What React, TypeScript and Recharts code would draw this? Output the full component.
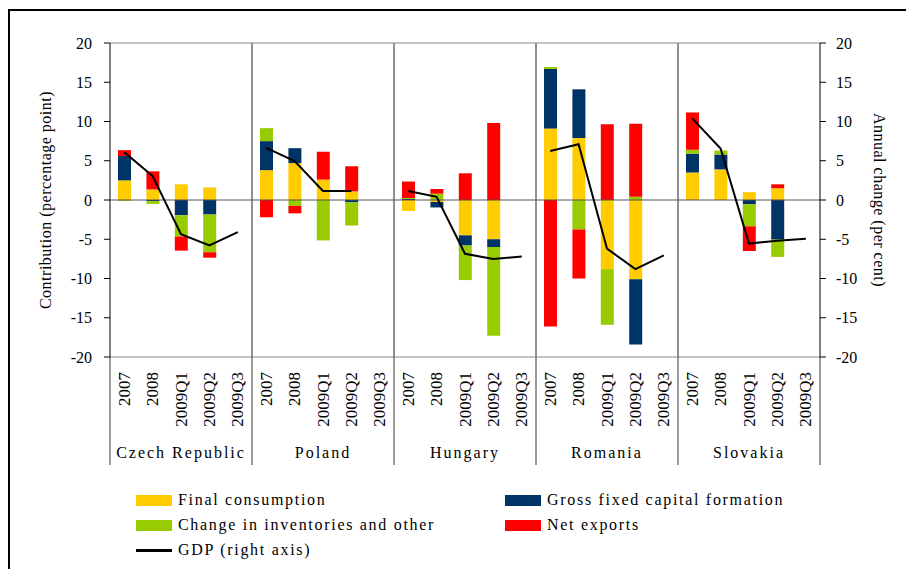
import React from 'react';
import { ComposedChart, Bar, Line, XAxis, YAxis, CartesianGrid, ReferenceLine } from 'recharts';

const countries = ['Czech Republic', 'Poland', 'Hungary', 'Romania', 'Slovakia'];
const periods = ['2007', '2008', '2009Q1', '2009Q2', '2009Q3'];
const yTicks = [-20, -15, -10, -5, 0, 5, 10, 15, 20];

// contributions, 5 periods per country, in the order of `countries`
const finalConsumption = [
  2.5, 1.35, 2.0, 1.6, 0,
  3.8, 4.7, 2.6, 1.1, 0,
  -1.4, -0.25, -4.5, -5.0, 0,
  9.1, 7.9, -8.8, -10.1, 0,
  3.5, 3.9, 1.0, 1.5, 0,
];
const grossFixedCapital = [
  3.1, -0.15, -1.95, -1.85, 0,
  3.7, 1.9, 0, -0.3, 0,
  0.15, -0.7, -1.3, -1.0, 0,
  7.6, 6.2, 0, -8.3, 0,
  2.4, 1.9, -0.55, -5.05, 0,
];
const inventories = [
  -0.1, -0.35, -2.7, -4.8, 0,
  1.65, -0.75, -5.15, -2.95, 0,
  0.1, 0.8, -4.4, -11.3, 0,
  0.25, -3.75, -7.1, 0.4, 0,
  0.5, 0.5, -2.8, -2.2, 0,
];
const netExports = [
  0.75, 2.3, -1.8, -0.7, 0,
  -2.2, -0.95, 3.55, 3.2, 0,
  2.1, 0.6, 3.4, 9.8, 0,
  -16.1, -6.25, 9.65, 9.3, 0,
  4.75, 0, -3.15, 0.5, 0,
];
const gdp: (number | null)[] = [
  6.1, 3.05, -4.35, -5.8, -4.1,
  6.65, 4.95, 1.15, 1.15, null,
  1.15, 0.4, -6.85, -7.5, -7.2,
  6.25, 7.1, -6.2, -8.8, -7.05,
  10.4, 6.55, -5.55, -5.2, -4.95,
];

const data = gdp.map((g, i) => {
  const c = Math.floor(i / 5);
  const row: Record<string, any> = {
    period: periods[i % 5],
    fc: finalConsumption[i],
    gfcf: grossFixedCapital[i],
    inv: inventories[i],
    nx: netExports[i],
  };
  row['gdp' + c] = g;
  return row;
});

const FONT = 'Liberation Serif, DejaVu Serif, serif';
const YELLOW = '#FFCC00';
const BLUE = '#003366';
const GREEN = '#99CC00';
const RED = '#FF0000';

const PeriodTick = (props: any) => {
  const { x, y, payload, index } = props;
  const half = payload?.offset || 14.2;
  const ty = y + 15;
  return (
    <g>
      <text
        x={x}
        y={ty}
        transform={`rotate(-90 ${x} ${ty})`}
        textAnchor="end"
        dominantBaseline="central"
        style={{ fontFamily: FONT, fontSize: 17 }}
        fill="#000"
      >
        {payload.value}
      </text>
      {index % 5 === 0 && <line x1={x - half} x2={x - half} y1={y} y2={y + 108} stroke="#333" strokeWidth={1} />}
      {index === data.length - 1 && <line x1={x + half} x2={x + half} y1={y} y2={y + 108} stroke="#333" strokeWidth={1} />}
      {index % 5 === 2 && (
        <text x={x} y={y + 95} textAnchor="middle" dominantBaseline="central" style={{ fontFamily: FONT, fontSize: 16, letterSpacing: 2 }} fill="#000">
          {countries[Math.floor(index / 5)]}
        </text>
      )}
    </g>
  );
};

const LegendItem = ({ x, y, color, label, line }: { x: number; y: number; color: string; label: string; line?: boolean }) => (
  <div style={{ position: 'absolute', left: x, top: y - 11, height: 22, display: 'flex', alignItems: 'center', whiteSpace: 'nowrap' }}>
    <div style={{ width: 36, height: line ? 3 : 11, background: color, marginRight: 6 }} />
    <span style={{ fontFamily: FONT, fontSize: 16, letterSpacing: 1.7, color: '#000' }}>{label}</span>
  </div>
);

export default function App() {
  return (
    <div style={{ position: 'absolute', left: 0, top: 0, width: 906, height: 569, background: '#fff', overflow: 'hidden', fontFamily: FONT }}>
      <div style={{ position: 'absolute', left: 8, top: 9, width: 920, height: 580, borderTop: '2px solid #000', borderLeft: '2px solid #000' }} />
      <div style={{ position: 'absolute', left: 0, top: 0 }}>
        <ComposedChart width={906} height={569} data={data} stackOffset="sign" margin={{ top: 43, right: 26, bottom: 102, left: 50 }}>
          <CartesianGrid
            horizontal={false}
            stroke="#222"
            verticalCoordinatesGenerator={({ offset }: any) => [1, 2, 3, 4].map((k) => offset.left + (offset.width * k) / 5)}
          />
          <XAxis
            dataKey="period"
            interval={0}
            height={110}
            tickLine={false}
            tickSize={0}
            tickMargin={0}
            axisLine={{ stroke: '#888' }}
            tick={<PeriodTick />}
          />
          <YAxis
            yAxisId="left"
            width={60}
            domain={[-20, 20]}
            ticks={yTicks}
            allowDataOverflow
            axisLine={{ stroke: '#000' }}
            tickLine={{ stroke: '#000' }}
            tickSize={6}
            tickMargin={12}
            tick={{ fill: '#000', style: { fontFamily: FONT, fontSize: 16 } }}
            label={{
              value: 'Contribution (percentage point)',
              angle: -90,
              position: 'insideLeft',
              offset: -5,
              style: { textAnchor: 'middle', fontFamily: FONT, fontSize: 16, fill: '#000', letterSpacing: 0.5 },
            }}
          />
          <YAxis
            yAxisId="right"
            orientation="right"
            width={60}
            domain={[-20, 20]}
            ticks={yTicks}
            allowDataOverflow
            axisLine={{ stroke: '#000' }}
            tickLine={{ stroke: '#000' }}
            tickSize={6}
            tickMargin={10}
            tick={{ fill: '#000', style: { fontFamily: FONT, fontSize: 16 } }}
            label={{
              value: 'Annual change (per cent)',
              angle: 90,
              position: 'insideRight',
              offset: 0,
              style: { textAnchor: 'middle', fontFamily: FONT, fontSize: 16, fill: '#000', letterSpacing: 0.5 },
            }}
          />
          <ReferenceLine yAxisId="left" y={20} stroke="#888" />
          <Bar yAxisId="left" dataKey="fc" stackId="s" fill={YELLOW} barSize={13} isAnimationActive={false} />
          <Bar yAxisId="left" dataKey="gfcf" stackId="s" fill={BLUE} barSize={13} isAnimationActive={false} />
          <Bar yAxisId="left" dataKey="inv" stackId="s" fill={GREEN} barSize={13} isAnimationActive={false} />
          <Bar yAxisId="left" dataKey="nx" stackId="s" fill={RED} barSize={13} isAnimationActive={false} />
          <ReferenceLine yAxisId="left" y={0} stroke="#555" />
          {countries.map((c, k) => (
            <Line
              key={c}
              yAxisId="right"
              dataKey={'gdp' + k}
              stroke="#000"
              strokeWidth={2}
              dot={false}
              activeDot={false}
              connectNulls={false}
              isAnimationActive={false}
            />
          ))}
        </ComposedChart>
      </div>
      <LegendItem x={136} y={500} color={YELLOW} label="Final consumption" />
      <LegendItem x={505} y={500} color={BLUE} label="Gross fixed capital formation" />
      <LegendItem x={136} y={525} color={GREEN} label="Change in inventories and other" />
      <LegendItem x={505} y={525} color={RED} label="Net exports" />
      <LegendItem x={136} y={550} color="#000" label="GDP (right axis)" line />
    </div>
  );
}
